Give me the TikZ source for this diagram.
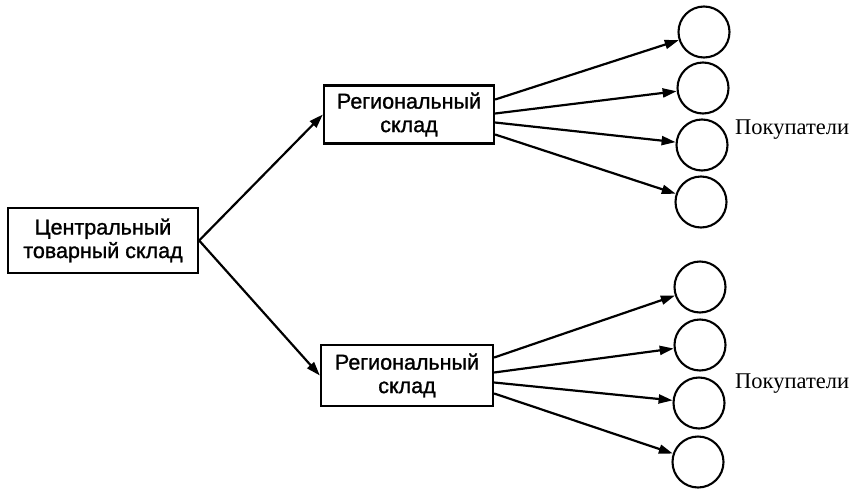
\documentclass[tikz,border=0pt]{standalone}
\usepackage{fontspec}
\setmainfont{Liberation Serif}
\newfontfamily\boxfont{Liberation Sans}[FakeBold=1.2]
\usetikzlibrary{arrows.meta}
\begin{document}
\begin{tikzpicture}[x=1pt,y=-1pt,
  wbox/.style={draw, line width=2.3pt, align=center, inner sep=0pt,
    font=\boxfont\fontsize{21.5}{23.5}\selectfont},
  cust/.style={draw, circle, line width=2.1pt, minimum size=51pt, inner sep=0pt},
  arr/.style={line width=2.2pt, -{Triangle[length=14pt,width=9pt]}},
  lbl/.style={anchor=west, inner sep=0pt, font=\fontsize{22.5}{24}\selectfont}]
\useasboundingbox (0,0) rectangle (857,493);
\node[wbox, minimum width=190pt, minimum height=65pt] (c) at (103,240.5) {Центральный\\товарный склад};
\node[wbox, minimum width=170pt, minimum height=58pt] (r1) at (409,114.5) {Региональный\\склад};
\node[wbox, minimum width=172pt, minimum height=61pt] (r2) at (407,375.5) {Региональный\\склад};
\node[cust] (a1) at (704,32) {};
\node[cust] (a2) at (703,88) {};
\node[cust] (a3) at (702,145) {};
\node[cust] (a4) at (701,202) {};
\node[cust] (b1) at (700,287) {};
\node[cust] (b2) at (700,345) {};
\node[cust] (b3) at (699,403) {};
\node[cust] (b4) at (698,462) {};
\node[lbl] (l1) at (735,130) {Покупатели};
\node[lbl] (l2) at (735,384) {Покупатели};
\draw[arr] (c.east) -- (r1.west);
\draw[arr] (c.east) -- (r2.west);
\draw[arr] ([yshift=15pt]r1.east) -- (a1);
\draw[arr] ([yshift=1pt]r1.east) -- (a2);
\draw[arr] ([yshift=-8pt]r1.east) -- (a3);
\draw[arr] ([yshift=-20pt]r1.east) -- (a4);
\draw[arr] ([yshift=18pt]r2.east) -- (b1);
\draw[arr] ([yshift=3pt]r2.east) -- (b2);
\draw[arr] ([yshift=-7pt]r2.east) -- (b3);
\draw[arr] ([yshift=-18pt]r2.east) -- (b4);
\end{tikzpicture}
\end{document}
